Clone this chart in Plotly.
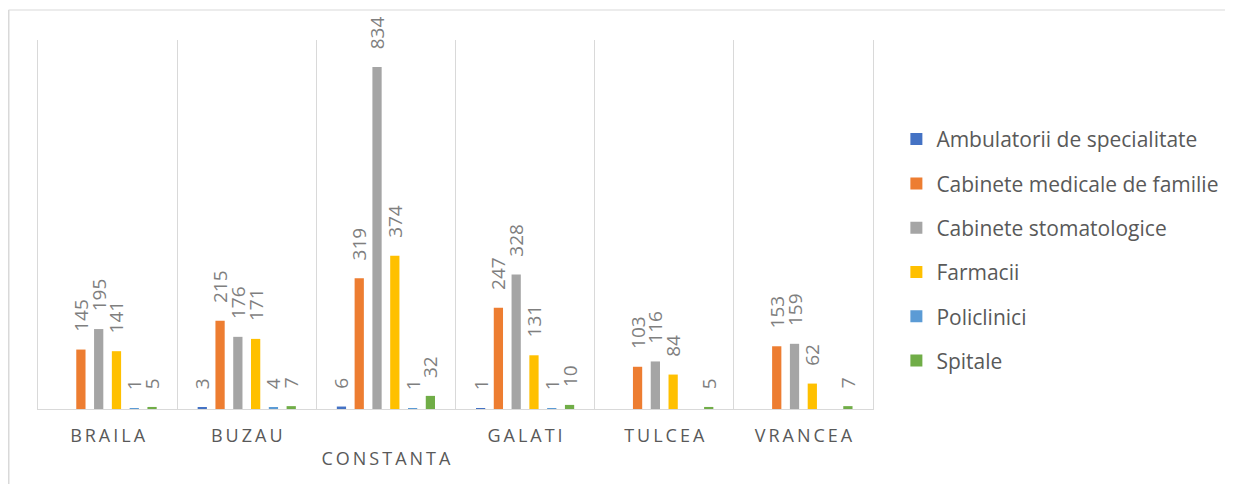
import plotly.graph_objects as go

categories = ["BRAILA", "BUZAU", "CONSTANTA", "GALATI", "TULCEA", "VRANCEA"]

series_names = [
    "Ambulatorii de specialitate",
    "Cabinete medicale de familie",
    "Cabinete stomatologice",
    "Farmacii",
    "Policlinici",
    "Spitale",
]

ambulatorii = [None, 3, 6, 1, None, None]
cabinete_familie = [145, 215, 319, 247, 103, 153]
cabinete_stomato = [195, 176, 834, 328, 116, 159]
farmacii = [141, 171, 374, 131, 84, 62]
policlinici = [1, 4, 1, 1, None, None]
spitale = [5, 7, 32, 10, 5, 7]

colors = ["#4472C4", "#ED7D31", "#A5A5A5", "#FFC000", "#5B9BD5", "#70AD47"]
values = [ambulatorii, cabinete_familie, cabinete_stomato, farmacii, policlinici, spitale]

# spaced-out category labels, CONSTANTA pushed to a second row like Excel does
tick_text = []
for c in categories:
    s = "\u2009".join(c)
    tick_text.append("<br>" + s if c == "CONSTANTA" else s)

# page has an 8px body margin, so margins are offset to compensate
W, H = 1233, 484
L, R, T, B = 30, 368, 32, 83

fig = go.Figure()
for name, vals, col in zip(series_names, values, colors):
    fig.add_trace(go.Bar(
        x=categories, y=vals, name=name, legendgroup=name,
        marker=dict(color=col, line=dict(width=0)),
        texttemplate="\u00a0\u00a0\u00a0%{y}",  # leading gap between bar and label
        textposition="outside", textangle=-90,
        constraintext="none", cliponaxis=False,
        textfont=dict(family="Open Sans", size=19, color="#7F7F7F"),
    ))

# outer chart frame (top and left edges visible in the crop)
pw, ph = W - L - R, H - T - B
x0 = (0.5 - L) / pw
y0 = (H - B - 2) / ph
fig.add_shape(type="line", xref="paper", yref="paper", x0=x0, x1=(W - L) / pw, y0=y0, y1=y0,
              line=dict(color="#D9D9D9", width=1))
fig.add_shape(type="line", xref="paper", yref="paper", x0=x0, x1=x0, y0=y0, y1=-B / ph,
              line=dict(color="#D9D9D9", width=2))

fig.update_layout(
    width=W, height=H,
    margin=dict(l=L, r=R, t=T, b=B),
    paper_bgcolor="white", plot_bgcolor="white",
    barmode="group", bargap=0.233, bargroupgap=0.48,
    font=dict(family="Open Sans", color="#595959"),
    legend=dict(x=1.028, y=0.786, xanchor="left", yanchor="top",
                font=dict(size=21, color="#595959"), tracegroupgap=14,
                bgcolor="rgba(0,0,0,0)"),
    xaxis=dict(
        type="category", tickson="boundaries",
        tickmode="array", tickvals=categories, ticktext=tick_text,
        showgrid=True, gridcolor="#D9D9D9", gridwidth=1,
        showline=True, linecolor="#D9D9D9", linewidth=1,
        ticks="", ticklabelstandoff=10,
        tickfont=dict(size=18, color="#595959"),
        zeroline=False,
    ),
    yaxis=dict(range=[0, 900], showticklabels=False, ticks="", showgrid=False,
               zeroline=False, showline=True, mirror=True,
               linecolor="#D9D9D9", linewidth=1),
)

fig.write_html("out.html")
